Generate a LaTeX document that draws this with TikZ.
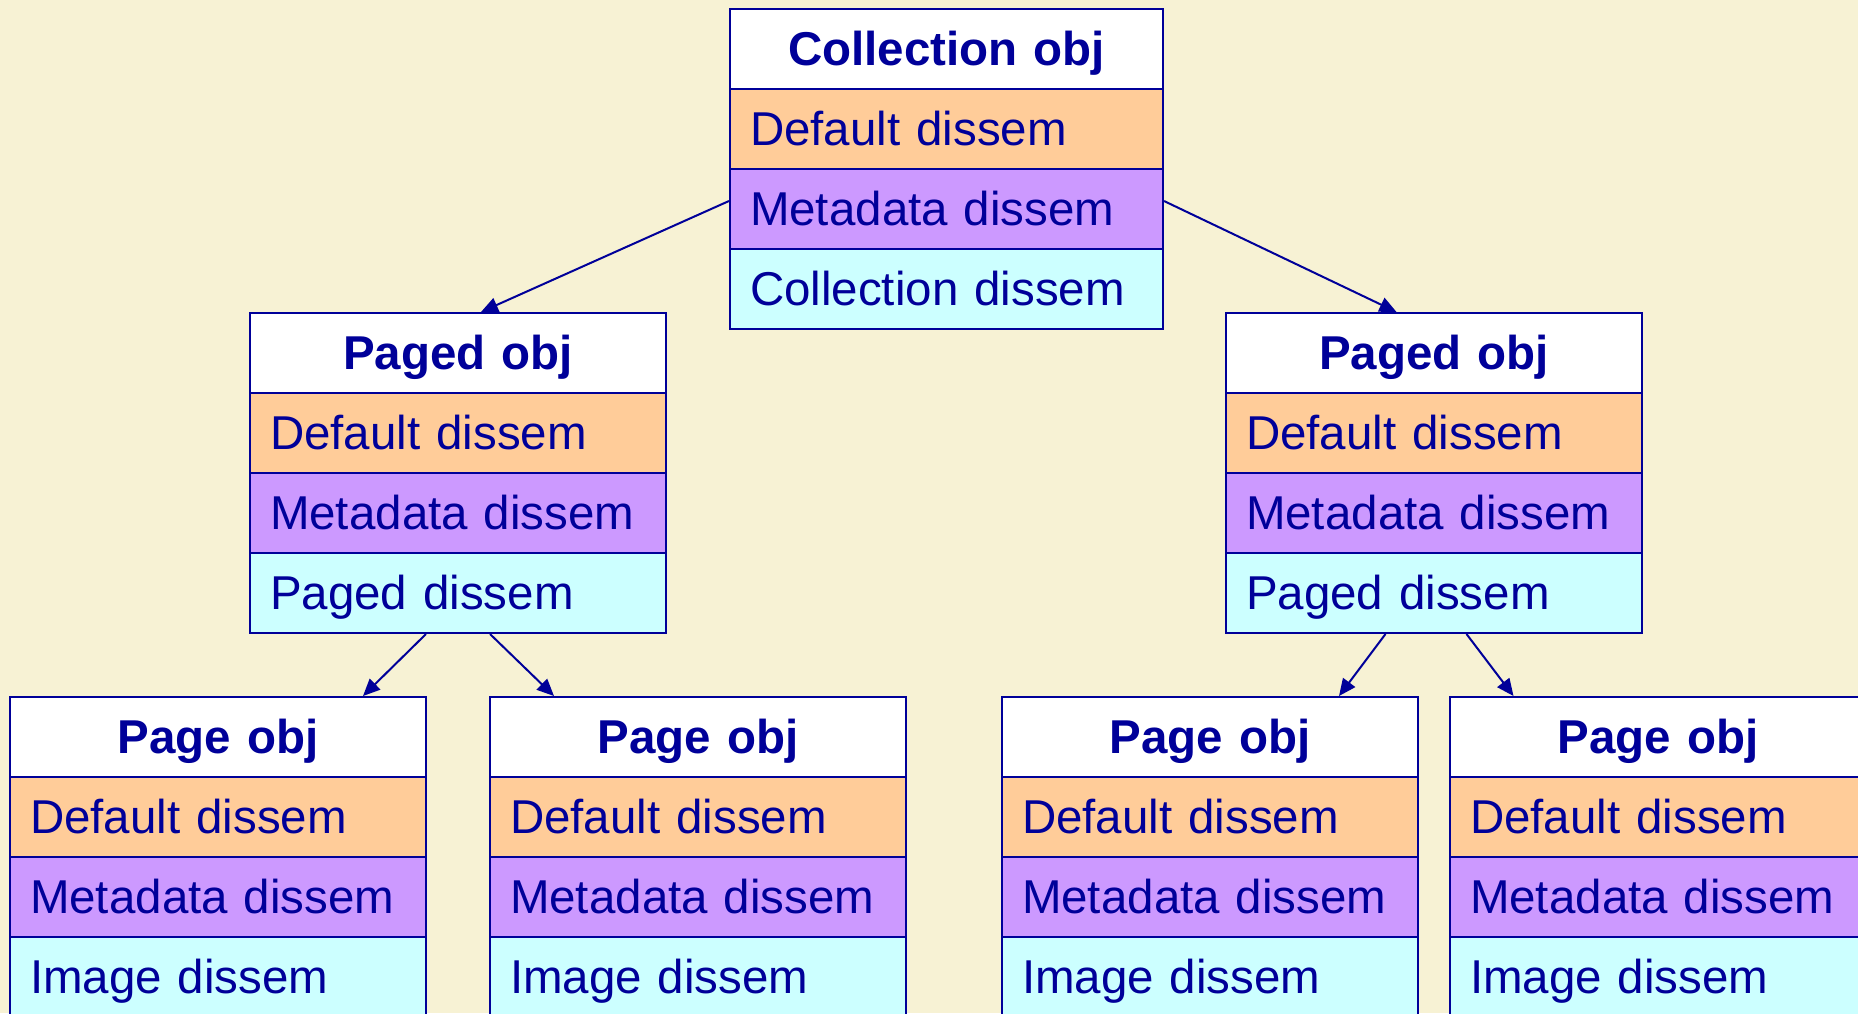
\documentclass[tikz,border=0pt]{standalone}
\usepackage{fontspec}
\setmainfont{Liberation Sans}
\usetikzlibrary{arrows.meta,calc}

\definecolor{bg}{RGB}{247,242,212}
\definecolor{ink}{RGB}{0,0,153}
\definecolor{rowdef}{RGB}{255,204,153}
\definecolor{rowmeta}{RGB}{204,153,255}
\definecolor{rowkind}{RGB}{204,255,255}

\tikzset{
  row/.style={draw=ink, line width=2pt, rectangle, inner xsep=20pt, inner ysep=0pt,
    text height=56pt, text depth=24pt, text=ink, anchor=north west,
    font=\fontsize{47.5}{50}\selectfont},
  titlerow/.style={row, fill=white, align=center,
    font=\fontsize{47.5}{50}\selectfont\bfseries},
  defrow/.style={row, fill=rowdef, align=left},
  metarow/.style={row, fill=rowmeta, align=left},
  kindrow/.style={row, fill=rowkind, align=left},
  conn/.style={draw=ink, line width=2pt, -{Triangle[length=17pt,width=15pt]}}
}

% #1 name, #2 left x, #3 top y, #4 text width, #5 title, #6 third row
\newcommand\objbox[6]{%
  \node[titlerow, text width=#4] (#1-t) at (#2,#3) {#5};
  \node[defrow,  text width=#4] (#1-d) at (#2,#3+80) {Default dissem};
  \node[metarow, text width=#4] (#1-m) at (#2,#3+160) {Metadata dissem};
  \node[kindrow, text width=#4] (#1-x) at (#2,#3+240) {#6};
}

\begin{document}
\begin{tikzpicture}[x=1pt, y=-1pt]
  \useasboundingbox (0,0) rectangle (1858,1013);
  \clip (0,0) rectangle (1858,1013);
  \fill[bg] (0,0) rectangle (1858,1013);

  % collection level
  \objbox{col}{729}{8}{393pt}{Collection obj}{Collection dissem}

  % paged level
  \objbox{pl}{249}{312}{376pt}{Paged obj}{Paged dissem}
  \objbox{pr}{1225}{312}{376pt}{Paged obj}{Paged dissem}

  % page level
  \objbox{pa}{9}{696}{376pt}{Page obj}{Image dissem}
  \objbox{pb}{489}{696}{376pt}{Page obj}{Image dissem}
  \objbox{pc}{1001}{696}{376pt}{Page obj}{Image dissem}
  \objbox{pd}{1449}{696}{376pt}{Page obj}{Image dissem}

  % links
  \draw[conn] ([yshift=8pt]col-m.west) -- ([xshift=23pt]pl-t.north);
  \draw[conn] ([yshift=8pt]col-m.east) -- ([xshift=-37.5pt]pr-t.north);

  \draw[conn] ([xshift=-32pt]pl-x.south) -- ([xshift=145pt]pa-t.north);
  \draw[conn] ([xshift=32pt]pl-x.south) -- ([xshift=-144pt]pb-t.north);

  \draw[conn] ([xshift=-48.5pt]pr-x.south) -- ([xshift=129pt]pc-t.north);
  \draw[conn] ([xshift=32.5pt]pr-x.south) -- ([xshift=-144.5pt]pd-t.north);
\end{tikzpicture}
\end{document}
